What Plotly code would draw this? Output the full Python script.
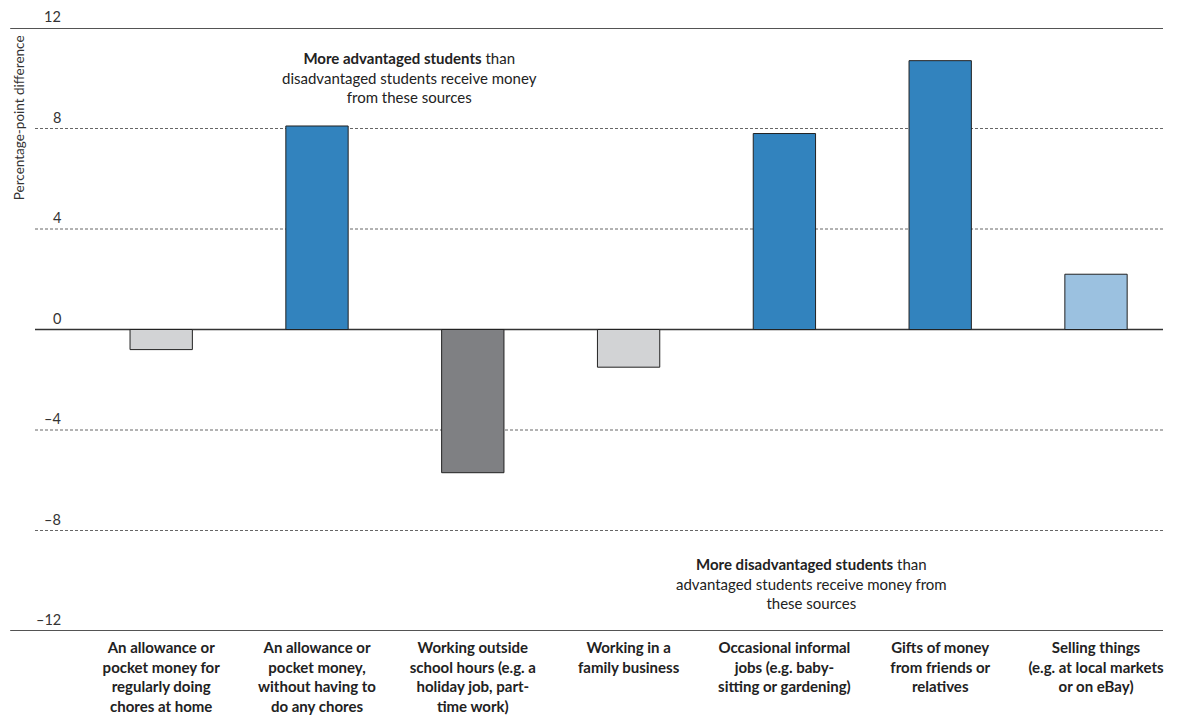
import plotly.graph_objects as go

categories = [
    "An allowance or<br>pocket money for<br>regularly doing<br>chores at home",
    "An allowance or<br>pocket money,<br>without having to<br>do any chores",
    "Working outside<br>school hours (e.g. a<br>holiday job, part-<br>time work)",
    "Working in a<br>family business",
    "Occasional informal<br>jobs (e.g. baby-<br>sitting or gardening)",
    "Gifts of money<br>from friends or<br>relatives",
    "Selling things<br>(e.g. at local markets<br>or on eBay)",
]
values = [-0.8, 8.1, -5.7, -1.5, 7.8, 10.7, 2.2]
bar_colors = ["#d2d3d5", "#3283be", "#7f8083", "#d2d3d5", "#3283be", "#3283be", "#9bc1e0"]
y_ticks = [12, 8, 4, 0, -4, -8, -12]
y_tick_text = ["12", "8", "4", "0", "\u20134", "\u20138", "\u201312"]

FONT = "Lato, 'Open Sans', sans-serif"

fig = go.Figure()
fig.add_trace(go.Bar(
    x=list(range(len(categories))),
    y=values,
    width=0.4,
    marker=dict(color=bar_colors, line=dict(color="#222222", width=1)),
    hoverinfo="y",
))

# gridlines: dotted in between, solid at 0 and the ends
shapes = []
for t in y_ticks:
    if t in (12, -12):
        shapes.append(dict(type="line", xref="paper", yref="y", x0=-0.022, x1=1,
                           y0=t, y1=t, line=dict(color="#1a1a1a", width=1.5), layer="below"))
    elif t == 0:
        shapes.append(dict(type="line", xref="paper", yref="y", x0=0, x1=1,
                           y0=t, y1=t, line=dict(color="#333333", width=1.5), layer="below"))
    else:
        shapes.append(dict(type="line", xref="paper", yref="y", x0=0, x1=1,
                           y0=t, y1=t, line=dict(color="#666666", width=1, dash="3px,2px"),
                           layer="below"))

annotations = []
for t, txt in zip(y_ticks, y_tick_text):
    annotations.append(dict(x=0.025, xref="paper", y=t, yref="y", text=txt,
                            showarrow=False, xanchor="right", yanchor="bottom", yshift=1,
                            font=dict(family=FONT, size=14.5, color="#333333")))

annotations.append(dict(x=-0.0145, xref="paper", y=12, yref="y", yshift=-5,
                        text="Percentage-point difference", textangle=-90,
                        showarrow=False, xanchor="center", yanchor="top",
                        font=dict(family=FONT, size=13.5, color="#333333")))

annotations.append(dict(x=1.595, xref="x", y=10.03, yref="y",
                        text="<b>More advantaged students</b> than<br>disadvantaged students receive money<br>from these sources",
                        showarrow=False, xanchor="center", yanchor="middle", align="center",
                        font=dict(family=FONT, size=15, color="#222222")))
annotations.append(dict(x=4.175, xref="x", y=-10.09, yref="y",
                        text="<b>More disadvantaged students</b> than<br>advantaged students receive money from<br>these sources",
                        showarrow=False, xanchor="center", yanchor="middle", align="center",
                        font=dict(family=FONT, size=15, color="#222222")))

# the page body adds 8px on the left and top, so the figure is 8px smaller
fig.update_layout(
    width=1174, height=718,
    margin=dict(l=27, r=19, t=20, b=95),
    plot_bgcolor="white", paper_bgcolor="white",
    showlegend=False,
    shapes=shapes,
    annotations=annotations,
    font=dict(family=FONT, color="#222222"),
)
fig.update_xaxes(
    range=[-0.81, 6.43],
    tickvals=list(range(len(categories))),
    ticktext=["<b>" + c.replace("<br>", "</b><br><b>") + "</b>" for c in categories],
    tickfont=dict(family=FONT, size=15, color="#222222"),
    ticklabelstandoff=6,
    showgrid=False, zeroline=False, showline=False, ticks="",
)
fig.update_yaxes(
    range=[-12, 12],
    showticklabels=False, showgrid=False, zeroline=False, showline=False, ticks="",
)

fig.write_html("out.html")
